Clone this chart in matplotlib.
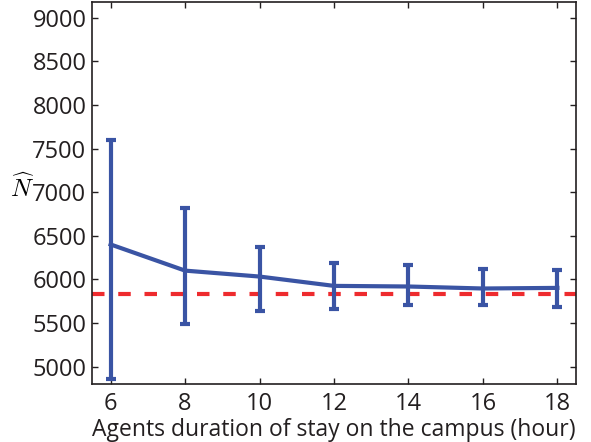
import matplotlib
matplotlib.use('Agg')
import matplotlib.pyplot as plt

hours = [6, 8, 10, 12, 14, 16, 18]
n_hat = [6400, 6100, 6032, 5925, 5918, 5895, 5902]
upper = [7600, 6820, 6370, 6193, 6163, 6117, 6112]
lower = [4855, 5490, 5642, 5658, 5711, 5704, 5681]
true_n = 5834

err_lo = [m - l for m, l in zip(n_hat, lower)]
err_hi = [u - m for m, u in zip(n_hat, upper)]

plt.rcParams['font.family'] = ['Open Sans', 'DejaVu Sans']
plt.rcParams['mathtext.fontset'] = 'cm'

fig = plt.figure(figsize=(5.91, 4.42), dpi=100)
ax = fig.add_axes([92 / 591, 1 - 384 / 442, (576 - 92) / 591, (384 - 2) / 442])

ax.axhline(true_n, color='#ee2b2e', linestyle=(0, (3.0, 3.3)), linewidth=3.0, zorder=1)
ax.errorbar(hours, n_hat, yerr=[err_lo, err_hi], color='#3a54a4', linewidth=3.0,
            elinewidth=3.0, capsize=3.4, capthick=3.0, zorder=2)

ax.set_xlim(5.5, 18.5)
ax.set_ylim(4800, 9180)
ax.set_xticks(hours)
ax.set_yticks(range(5000, 9001, 500))
ax.tick_params(direction='in', top=True, right=True, length=4, width=1,
               labelsize=17, colors='#231f20')
ax.tick_params(axis='y', pad=4)
ax.tick_params(axis='x', pad=6)
for s in ax.spines.values():
    s.set_linewidth(1.2)
    s.set_color('#231f20')

ax.set_xlabel('Agents duration of stay on the campus (hour)', fontsize=16.5,
              color='#231f20', labelpad=1)
ax.text(-0.145, 0.51, r'$\widehat{N}$', transform=ax.transAxes, fontsize=18,
        ha='center', va='center')

fig.savefig('out.png', dpi=100)
